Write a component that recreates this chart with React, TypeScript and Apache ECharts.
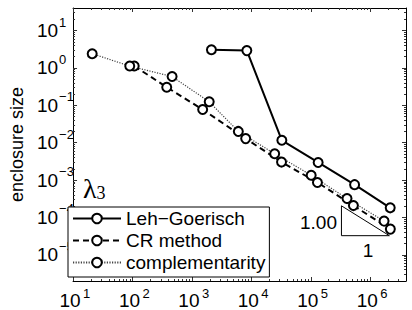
import React, { useEffect, useRef } from "react";
import * as echarts from "echarts";

// Data (x: degrees of freedom, y: enclosure size)
const lehX = [2130, 8400, 32600, 133000, 546000, 2170000];
const lehY = [3.07, 2.9, 0.0116, 0.00296, 7.55e-4, 1.81e-4];
const crX = [107, 377, 1517, 8030, 32200, 129400, 521000, 2180000];
const crY = [1.12, 0.305, 0.0769, 0.01285, 0.00303, 8.63e-4, 2.08e-4, 4.88e-5];
const compX = [21, 90, 464, 1955, 6040, 24700, 101600, 407000, 1710000];
const compY = [2.4, 1.12, 0.587, 0.124, 0.02, 0.00504, 0.00135, 3.2e-4, 8.0e-5];
// slope triangle (data coordinates)
const triX = [328000, 328000, 2100000, 328000];
const triY = [2.05e-4, 3.26e-5, 3.26e-5, 2.05e-4];

const seriesNames = ["Leh\u2212Goerisch", "CR method", "complementarity"];
const xTickExps = [1, 2, 3, 4, 5, 6];
const yTickExps = [-5, -4, -3, -2, -1, 0, 1];
const xMin = 10;
const xMax = 4e6;
const yMin = 2e-6;
const yMax = 40;

const zip = (xs: number[], ys: number[]) => xs.map((x, i) => [x, ys[i]]);

function minorTicks(lo: number, hi: number): number[] {
  const out: number[] = [];
  for (let e = Math.floor(Math.log10(lo)); e <= Math.ceil(Math.log10(hi)); e++) {
    for (let m = 2; m <= 9; m++) {
      const v = Number((m * Math.pow(10, e)).toPrecision(6));
      if (v > lo && v < hi) out.push(v);
    }
  }
  return out;
}

const pow10 = (e: number) => Number(Math.pow(10, e).toPrecision(6));

const expOf = (v: number) => {
  const l = Math.log10(v);
  const e = Math.round(l);
  return Math.abs(l - e) > 1e-6 ? null : e;
};
const baseLabel = (v: number) => (expOf(v) === null ? "" : "10");
const expLabel = (v: number) => {
  const e = expOf(v);
  if (e === null) return "";
  return e < 0 ? "\u2212" + -e : String(e);
};

const FONT = "Liberation Sans, Arial, Helvetica, sans-serif";

export default function App() {
  const ref = useRef<HTMLDivElement>(null);
  useEffect(() => {
    if (!ref.current) return;
    const chart = echarts.init(ref.current, null, { renderer: "svg" });
    const xMajor = xTickExps.map(pow10);
    const yMajor = yTickExps.map(pow10);
    const xMinor = minorTicks(xMin, xMax);
    const yMinor = minorTicks(yMin, yMax);
    const lineCol = "#000";
    const tickCol = "#333";

    const xAx = (position: string, minor: boolean, label: any) => ({
      type: "log",
      logBase: 10,
      min: xMin,
      max: xMax,
      position,
      gridIndex: 0,
      axisLine: { show: !minor, lineStyle: { color: lineCol, width: 1 } },
      axisTick: {
        show: true,
        inside: true,
        length: minor ? 2 : 4,
        lineStyle: { color: tickCol, width: 1 },
        customValues: minor ? xMinor : xMajor,
      },
      axisLabel: label
        ? { show: true, customValues: xMajor, showMinLabel: true, showMaxLabel: true, hideOverlap: false, fontFamily: FONT, color: "#000", ...label }
        : { show: false },
      splitLine: { show: false },
    });
    const yAx = (position: string, minor: boolean, label: any, name: string) => ({
      type: "log",
      logBase: 10,
      min: yMin,
      max: yMax,
      position,
      gridIndex: 0,
      name,
      nameLocation: "middle",
      nameGap: 44,
      nameTextStyle: { fontSize: 18, fontFamily: FONT, color: "#000" },
      axisLine: { show: !minor, lineStyle: { color: lineCol, width: 1 } },
      axisTick: {
        show: true,
        inside: true,
        length: minor ? 2 : 4,
        lineStyle: { color: tickCol, width: 1 },
        customValues: minor ? yMinor : yMajor,
      },
      axisLabel: label
        ? { show: true, customValues: yMajor, showMinLabel: true, showMaxLabel: true, hideOverlap: false, fontFamily: FONT, color: "#000", ...label }
        : { show: false },
      splitLine: { show: false },
    });

    const marker = { color: "#000", borderColor: "#000", borderWidth: 2.2 };

    chart.setOption({
      animation: false,
      backgroundColor: "#fff",
      grid: { left: 64, top: 8, width: 342, height: 275, containLabel: false },
      xAxis: [
        xAx("bottom", false, { formatter: baseLabel, fontSize: 19, align: "center", verticalAlign: "top", margin: 10, padding: [0, 6, 0, 0] }),
        xAx("bottom", true, { formatter: expLabel, fontSize: 13, align: "left", verticalAlign: "top", margin: 6, padding: [0, 0, 0, 10] }),
        xAx("top", false, null),
        xAx("top", true, null),
      ],
      yAxis: [
        yAx("left", false, { formatter: baseLabel, fontSize: 19, align: "right", verticalAlign: "middle", margin: 15 }, "enclosure size"),
        yAx("left", true, { formatter: expLabel, fontSize: 13, align: "left", verticalAlign: "bottom", margin: 14, padding: [0, 0, 2, 0] }, ""),
        yAx("right", false, null, ""),
        yAx("right", true, null, ""),
      ],
      legend: {
        data: seriesNames,
        orient: "vertical",
        left: 68,
        top: 207,
        itemWidth: 48,
        itemHeight: 12,
        itemGap: 3,
        padding: [2, 4, 5, 4],
        borderColor: "#000",
        borderWidth: 1,
        backgroundColor: "#fff",
        textStyle: { fontSize: 19, fontFamily: FONT, color: "#000" },
      },
      graphic: [
        {
          type: "text",
          left: 83,
          top: 174,
          style: {
            text: "{l|\u03bb}{s|3}",
            rich: {
              l: { fontSize: 28, fontFamily: "Liberation Serif, serif", fill: "#000", verticalAlign: "bottom", lineHeight: 28 },
              s: { fontSize: 18, fontFamily: "Liberation Serif, serif", fill: "#000", verticalAlign: "bottom", lineHeight: 22 },
            },
          },
        },
        {
          type: "text",
          x: 337,
          y: 222,
          style: { text: "1.00", fontSize: 19, fontFamily: FONT, fill: "#000", textAlign: "right", textVerticalAlign: "middle" },
        },
        {
          type: "text",
          x: 368,
          y: 250,
          style: { text: "1", fontSize: 19, fontFamily: FONT, fill: "#000", textAlign: "center", textVerticalAlign: "middle" },
        },
      ],
      series: [
        {
          name: seriesNames[0],
          type: "line",
          xAxisIndex: 0,
          yAxisIndex: 0,
          data: zip(lehX, lehY),
          symbol: "emptyCircle",
          symbolSize: 9,
          itemStyle: marker,
          lineStyle: { color: "#000", width: 2, type: "solid" },
          z: 3,
        },
        {
          name: seriesNames[1],
          type: "line",
          xAxisIndex: 0,
          yAxisIndex: 0,
          data: zip(crX, crY),
          symbol: "emptyCircle",
          symbolSize: 9,
          itemStyle: marker,
          lineStyle: { color: "#000", width: 2, type: [6, 4] },
          z: 3,
        },
        {
          name: seriesNames[2],
          type: "line",
          xAxisIndex: 0,
          yAxisIndex: 0,
          data: zip(compX, compY),
          symbol: "emptyCircle",
          symbolSize: 9,
          itemStyle: marker,
          lineStyle: { color: "#444", width: 1.2, type: [1.2, 1.4] },
          z: 3,
        },
        {
          name: "slope",
          type: "line",
          xAxisIndex: 0,
          yAxisIndex: 0,
          data: zip(triX, triY),
          symbol: "none",
          silent: true,
          lineStyle: { color: "#000", width: 1 },
          z: 2,
        },
      ],
    });
    return () => chart.dispose();
  }, []);
  return <div ref={ref} style={{ position: "fixed", left: 0, top: 0, width: 412, height: 310 }} />;
}
